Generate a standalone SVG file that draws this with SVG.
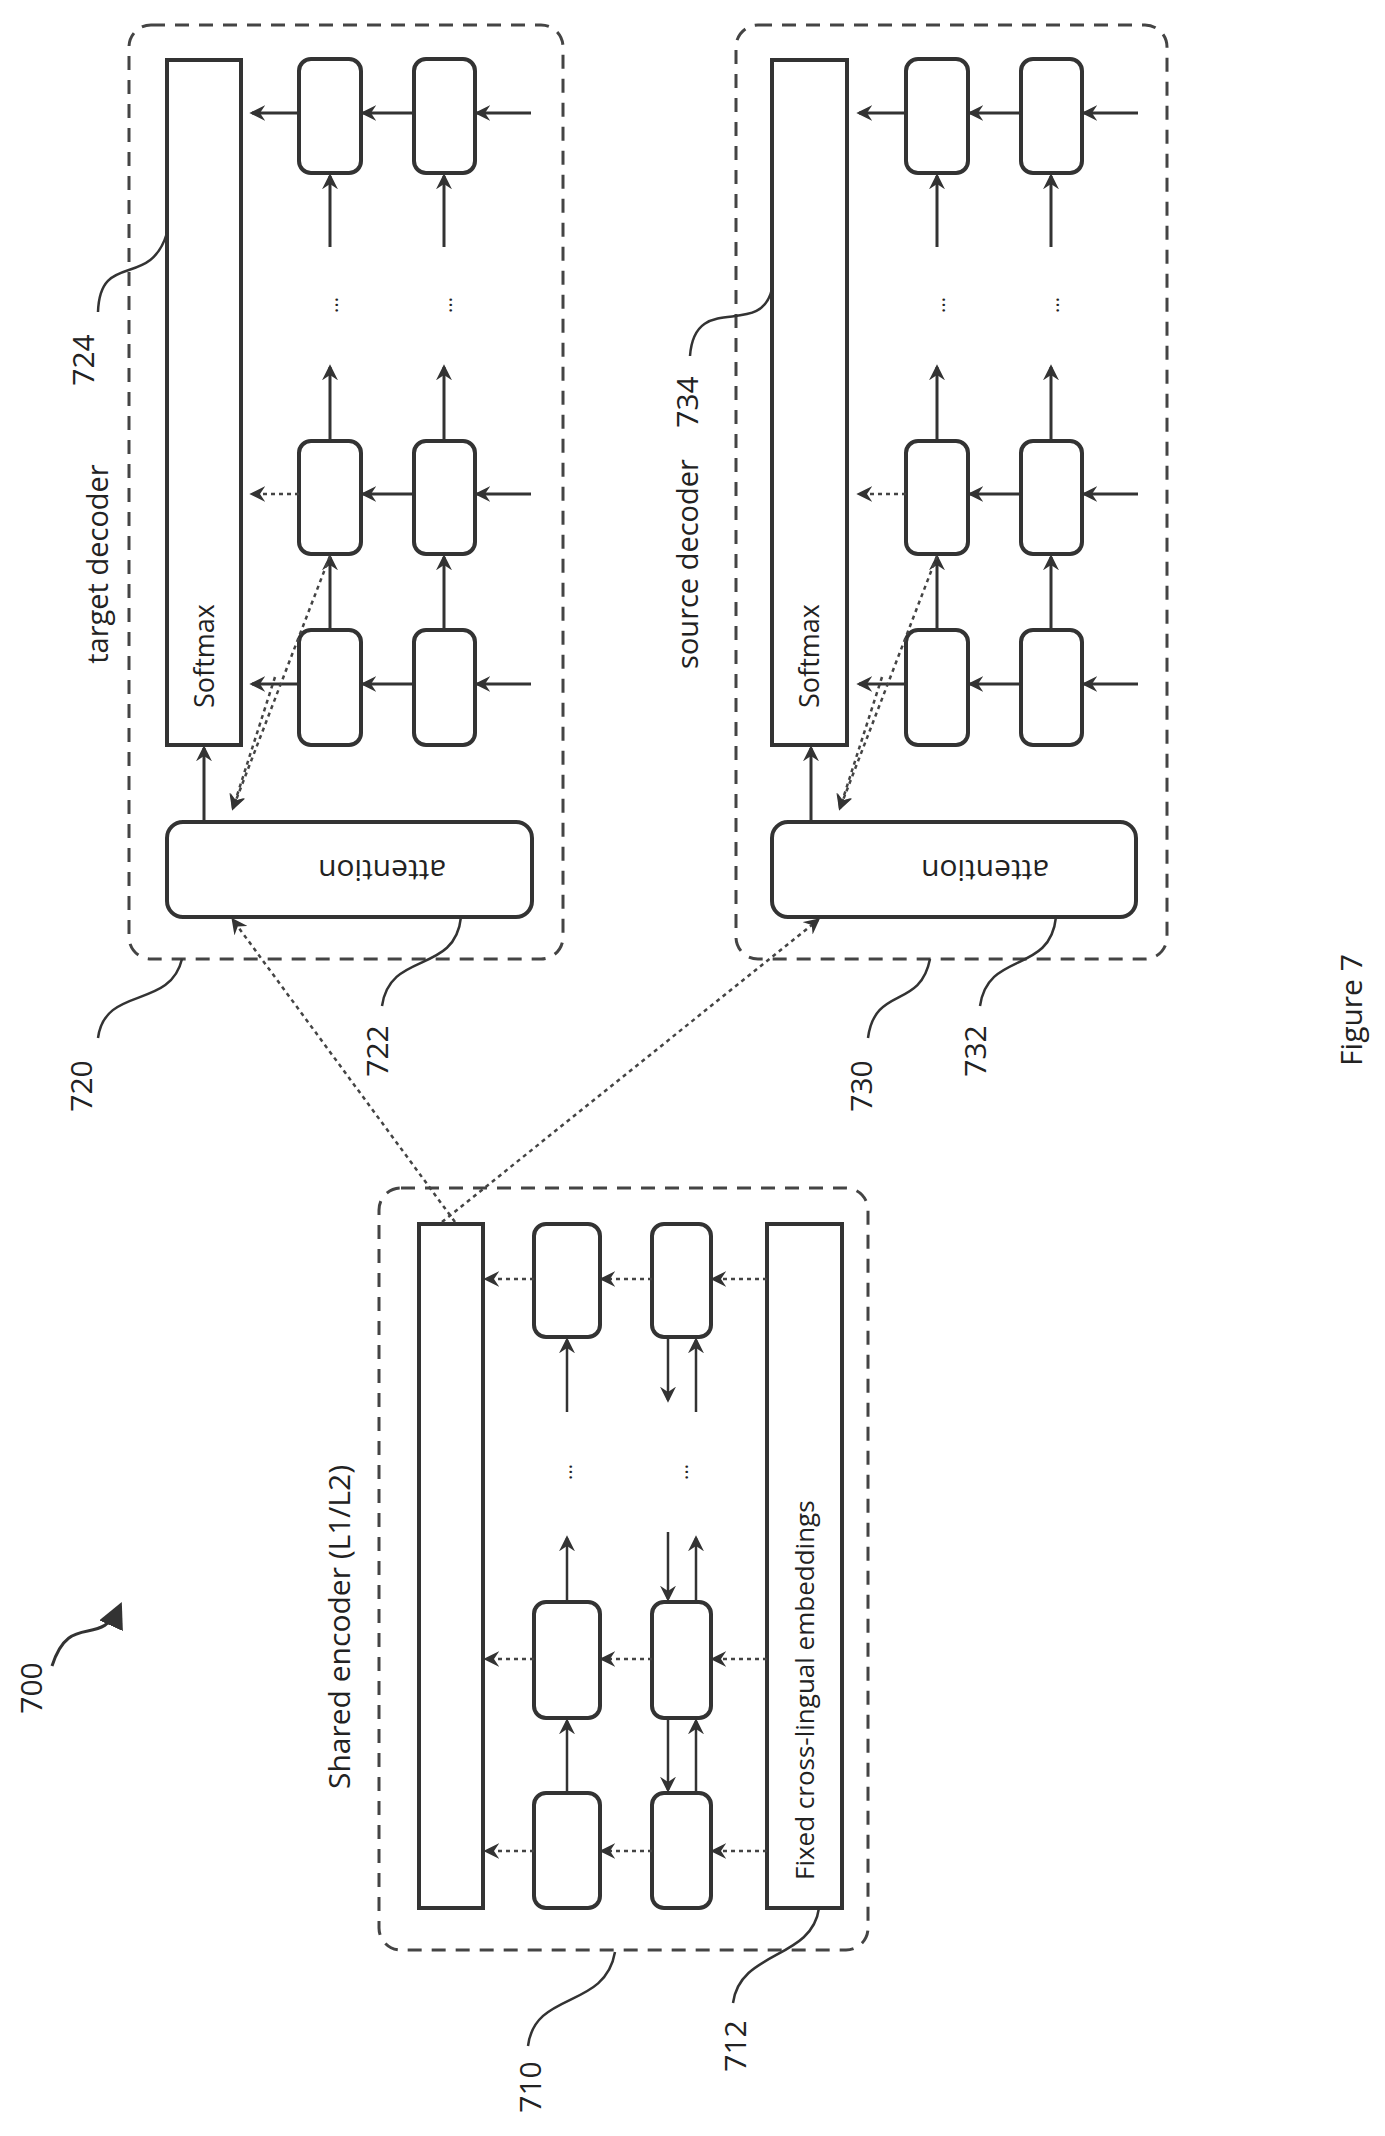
<svg xmlns="http://www.w3.org/2000/svg" width="1385" height="2136" viewBox="0 0 1385 2136">
<defs>
<style>
.t{font-family:"Open Sans","DejaVu Sans",sans-serif;fill:#222}
.frame{fill:none;stroke:#444;stroke-width:3;stroke-dasharray:14 10}
.box{fill:#fff;stroke:#333;stroke-width:4}
.ln{fill:none;stroke:#333;stroke-width:3}
.dl{fill:none;stroke:#444;stroke-width:2.5;stroke-dasharray:4 4}
.ld{fill:none;stroke:#333;stroke-width:2.5}
</style>
<marker id="ah" viewBox="0 0 12 12" refX="10" refY="6" markerWidth="16" markerHeight="16" markerUnits="userSpaceOnUse" orient="auto">
<path d="M0,0 L12,6 L0,12 L4,6 Z" fill="#333"/>
</marker>
<marker id="big" viewBox="0 0 12 12" refX="10" refY="6" markerWidth="26" markerHeight="26" markerUnits="userSpaceOnUse" orient="auto">
<path d="M0,0 L12,6 L0,12 Z" fill="#333"/>
</marker>
</defs>

<g id="target-decoder">
<rect class="frame" x="129" y="25" width="434" height="934" rx="22"/>
<text class="t" font-size="29" transform="translate(108,564) rotate(-90)" text-anchor="middle">target decoder</text>
</g>
<g id="target-softmax"><rect class="box" x="167" y="60" width="74" height="685"/>
<text class="t" font-size="27" transform="translate(214,656) rotate(-90)" text-anchor="middle">Softmax</text></g>
<g id="target-cells">
<rect class="box" x="299" y="59" width="62" height="114" rx="12"/><rect class="box" x="414" y="59" width="61" height="114" rx="12"/>
<rect class="box" x="299" y="441" width="62" height="113" rx="12"/><rect class="box" x="414" y="441" width="61" height="113" rx="12"/>
<rect class="box" x="299" y="630" width="62" height="115" rx="12"/><rect class="box" x="414" y="630" width="61" height="115" rx="12"/>
<text class="t" font-size="20" transform="translate(338,305) rotate(-90)" text-anchor="middle">...</text>
<text class="t" font-size="20" transform="translate(452,305) rotate(-90)" text-anchor="middle">...</text>
</g>
<g id="target-attention"><rect class="box" x="167" y="822" width="365" height="95" rx="16"/>
<text class="t" font-size="30" transform="translate(382,868) rotate(180)" text-anchor="middle" dominant-baseline="middle">attention</text></g>

<g id="source-decoder">
<rect class="frame" x="736" y="25" width="431" height="934" rx="22"/>
<text class="t" font-size="29" transform="translate(698,564) rotate(-90)" text-anchor="middle">source decoder</text>
</g>
<g id="source-softmax"><rect class="box" x="772" y="60" width="75" height="685"/>
<text class="t" font-size="27" transform="translate(819,656) rotate(-90)" text-anchor="middle">Softmax</text></g>
<g id="source-cells" transform="translate(607,0)">
<rect class="box" x="299" y="59" width="62" height="114" rx="12"/><rect class="box" x="414" y="59" width="61" height="114" rx="12"/>
<rect class="box" x="299" y="441" width="62" height="113" rx="12"/><rect class="box" x="414" y="441" width="61" height="113" rx="12"/>
<rect class="box" x="299" y="630" width="62" height="115" rx="12"/><rect class="box" x="414" y="630" width="61" height="115" rx="12"/>
<text class="t" font-size="20" transform="translate(338,305) rotate(-90)" text-anchor="middle">...</text>
<text class="t" font-size="20" transform="translate(452,305) rotate(-90)" text-anchor="middle">...</text>
</g>
<g id="source-attention"><rect class="box" x="772" y="822" width="364" height="95" rx="16"/>
<text class="t" font-size="30" transform="translate(985,868) rotate(180)" text-anchor="middle" dominant-baseline="middle">attention</text></g>

<g id="shared-encoder">
<rect class="frame" x="379" y="1188" width="489" height="762" rx="22"/>
<text class="t" font-size="30" transform="translate(350,1627) rotate(-90)" text-anchor="middle">Shared encoder (L1/L2)</text>
</g>
<g id="encoder-bar"><rect class="box" x="419" y="1224" width="64" height="684"/></g>
<g id="encoder-cells">
<rect class="box" x="534" y="1224" width="66" height="113" rx="12"/><rect class="box" x="652" y="1224" width="59" height="113" rx="12"/>
<rect class="box" x="534" y="1602" width="66" height="116" rx="12"/><rect class="box" x="652" y="1602" width="59" height="116" rx="12"/>
<rect class="box" x="534" y="1793" width="66" height="115" rx="12"/><rect class="box" x="652" y="1793" width="59" height="115" rx="12"/>
<text class="t" font-size="20" transform="translate(572,1472) rotate(-90)" text-anchor="middle">...</text>
<text class="t" font-size="20" transform="translate(688,1472) rotate(-90)" text-anchor="middle">...</text>
</g>
<g id="embeddings"><rect class="box" x="767" y="1224" width="75" height="684"/>
<text class="t" font-size="26" transform="translate(814,1880) rotate(-90)">Fixed cross-lingual embeddings</text></g>

<g id="connectors">
<line class="ln" x1="531" y1="113" x2="477" y2="113" marker-end="url(#ah)"/>
<line class="ln" x1="414" y1="113" x2="363" y2="113" marker-end="url(#ah)"/>
<line class="ln" x1="299" y1="113" x2="252" y2="113" marker-end="url(#ah)"/>
<line class="ln" x1="531" y1="494" x2="477" y2="494" marker-end="url(#ah)"/>
<line class="ln" x1="414" y1="494" x2="363" y2="494" marker-end="url(#ah)"/>
<line class="dl" x1="299" y1="494" x2="252" y2="494" marker-end="url(#ah)"/>
<line class="ln" x1="531" y1="684" x2="477" y2="684" marker-end="url(#ah)"/>
<line class="ln" x1="414" y1="684" x2="363" y2="684" marker-end="url(#ah)"/>
<line class="ln" x1="299" y1="684" x2="252" y2="684" marker-end="url(#ah)"/>
<line class="ln" x1="330" y1="247" x2="330" y2="176" marker-end="url(#ah)"/>
<line class="ln" x1="444" y1="247" x2="444" y2="176" marker-end="url(#ah)"/>
<line class="ln" x1="330" y1="441" x2="330" y2="367" marker-end="url(#ah)"/>
<line class="ln" x1="444" y1="441" x2="444" y2="367" marker-end="url(#ah)"/>
<line class="ln" x1="330" y1="630" x2="330" y2="557" marker-end="url(#ah)"/>
<line class="ln" x1="444" y1="630" x2="444" y2="557" marker-end="url(#ah)"/>
<line class="ln" x1="204" y1="822" x2="204" y2="748" marker-end="url(#ah)"/>
<line class="dl" x1="275" y1="677" x2="233" y2="808" marker-end="url(#ah)"/>
<line class="dl" x1="330" y1="556" x2="233" y2="808" marker-end="url(#ah)"/>
<g transform="translate(607,0)">
<line class="ln" x1="531" y1="113" x2="477" y2="113" marker-end="url(#ah)"/>
<line class="ln" x1="414" y1="113" x2="363" y2="113" marker-end="url(#ah)"/>
<line class="ln" x1="299" y1="113" x2="252" y2="113" marker-end="url(#ah)"/>
<line class="ln" x1="531" y1="494" x2="477" y2="494" marker-end="url(#ah)"/>
<line class="ln" x1="414" y1="494" x2="363" y2="494" marker-end="url(#ah)"/>
<line class="dl" x1="299" y1="494" x2="252" y2="494" marker-end="url(#ah)"/>
<line class="ln" x1="531" y1="684" x2="477" y2="684" marker-end="url(#ah)"/>
<line class="ln" x1="414" y1="684" x2="363" y2="684" marker-end="url(#ah)"/>
<line class="ln" x1="299" y1="684" x2="252" y2="684" marker-end="url(#ah)"/>
<line class="ln" x1="330" y1="247" x2="330" y2="176" marker-end="url(#ah)"/>
<line class="ln" x1="444" y1="247" x2="444" y2="176" marker-end="url(#ah)"/>
<line class="ln" x1="330" y1="441" x2="330" y2="367" marker-end="url(#ah)"/>
<line class="ln" x1="444" y1="441" x2="444" y2="367" marker-end="url(#ah)"/>
<line class="ln" x1="330" y1="630" x2="330" y2="557" marker-end="url(#ah)"/>
<line class="ln" x1="444" y1="630" x2="444" y2="557" marker-end="url(#ah)"/>
<line class="ln" x1="204" y1="822" x2="204" y2="748" marker-end="url(#ah)"/>
<line class="dl" x1="275" y1="677" x2="233" y2="808" marker-end="url(#ah)"/>
<line class="dl" x1="330" y1="556" x2="233" y2="808" marker-end="url(#ah)"/>
</g>
<line class="dl" x1="455" y1="1222" x2="233" y2="920" marker-end="url(#ah)"/>
<line class="dl" x1="442" y1="1222" x2="818" y2="920" marker-end="url(#ah)"/>
<line class="dl" x1="767" y1="1279" x2="713" y2="1279" marker-end="url(#ah)"/>
<line class="dl" x1="652" y1="1279" x2="602" y2="1279" marker-end="url(#ah)"/>
<line class="dl" x1="534" y1="1279" x2="486" y2="1279" marker-end="url(#ah)"/>
<line class="dl" x1="767" y1="1659" x2="713" y2="1659" marker-end="url(#ah)"/>
<line class="dl" x1="652" y1="1659" x2="602" y2="1659" marker-end="url(#ah)"/>
<line class="dl" x1="534" y1="1659" x2="486" y2="1659" marker-end="url(#ah)"/>
<line class="dl" x1="767" y1="1851" x2="713" y2="1851" marker-end="url(#ah)"/>
<line class="dl" x1="652" y1="1851" x2="602" y2="1851" marker-end="url(#ah)"/>
<line class="dl" x1="534" y1="1851" x2="486" y2="1851" marker-end="url(#ah)"/>
<line class="ld" x1="567" y1="1412" x2="567" y2="1340" marker-end="url(#ah)"/>
<line class="ld" x1="567" y1="1602" x2="567" y2="1538" marker-end="url(#ah)"/>
<line class="ld" x1="567" y1="1793" x2="567" y2="1721" marker-end="url(#ah)"/>
<line class="ld" x1="696" y1="1412" x2="696" y2="1340" marker-end="url(#ah)"/>
<line class="ld" x1="696" y1="1602" x2="696" y2="1538" marker-end="url(#ah)"/>
<line class="ld" x1="696" y1="1793" x2="696" y2="1721" marker-end="url(#ah)"/>
<line class="ld" x1="668" y1="1337" x2="668" y2="1400" marker-end="url(#ah)"/>
<line class="ld" x1="668" y1="1532" x2="668" y2="1599" marker-end="url(#ah)"/>
<line class="ld" x1="668" y1="1718" x2="668" y2="1790" marker-end="url(#ah)"/>
</g>

<g id="labels">
<text class="t" font-size="30" transform="translate(94,360) rotate(-90)" text-anchor="middle">724</text>
<path class="ld" d="M98,312 C100,250 150,290 167,233"/>
<text class="t" font-size="30" transform="translate(92,1086) rotate(-90)" text-anchor="middle">720</text>
<path class="ld" d="M98,1038 C105,985 170,1010 182,959"/>
<text class="t" font-size="30" transform="translate(388,1051) rotate(-90)" text-anchor="middle">722</text>
<path class="ld" d="M382,1006 C390,950 455,975 461,917"/>
<text class="t" font-size="30" transform="translate(698,402) rotate(-90)" text-anchor="middle">734</text>
<path class="ld" d="M690,356 C695,290 760,340 772,289"/>
<text class="t" font-size="30" transform="translate(872,1086) rotate(-90)" text-anchor="middle">730</text>
<path class="ld" d="M868,1038 C875,985 920,1010 930,959"/>
<text class="t" font-size="30" transform="translate(986,1051) rotate(-90)" text-anchor="middle">732</text>
<path class="ld" d="M980,1006 C988,950 1050,975 1056,917"/>
<text class="t" font-size="30" transform="translate(1362,1010) rotate(-90)" text-anchor="middle">Figure 7</text>
<text class="t" font-size="30" transform="translate(42,1688) rotate(-90)" text-anchor="middle">700</text>
<path fill="none" stroke="#333" stroke-width="3" d="M52,1666 C70,1610 100,1650 120,1606" marker-end="url(#big)"/>
<text class="t" font-size="30" transform="translate(541,2087) rotate(-90)" text-anchor="middle">710</text>
<path class="ld" d="M528,2046 C535,1990 605,2010 615,1952"/>
<text class="t" font-size="30" transform="translate(746,2046) rotate(-90)" text-anchor="middle">712</text>
<path class="ld" d="M733,2003 C740,1950 812,1960 819,1908"/>
</g>
</svg>
